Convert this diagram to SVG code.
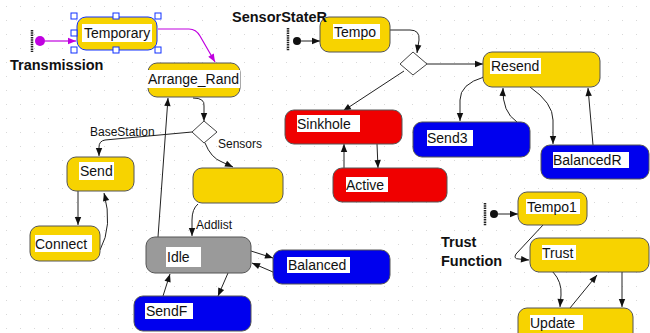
<svg xmlns="http://www.w3.org/2000/svg" width="650" height="333" viewBox="0 0 650 333">
  <defs>
    <pattern id="grid" width="14" height="14" patternUnits="userSpaceOnUse">
      <rect x="6" y="6" width="1" height="1" fill="#d8d8d8"/>
    </pattern>
    <marker id="arr" viewBox="0 0 10 10" refX="10" refY="5" markerWidth="10" markerHeight="8" orient="auto" markerUnits="userSpaceOnUse">
      <path d="M0,1 L10,5 L0,9 Z" fill="#111"/>
    </marker>
    <marker id="arrM" viewBox="0 0 10 10" refX="10" refY="5" markerWidth="10" markerHeight="8" orient="auto" markerUnits="userSpaceOnUse">
      <path d="M0,1 L10,5 L0,9 Z" fill="#c000e0"/>
    </marker>
    <style>
      .node { stroke: #555; stroke-width: 1; }
      .yel { fill: #f7d300; }
      .red { fill: #f00000; }
      .blu { fill: #0000ee; }
      .gry { fill: #9a9a9a; }
      .lblbg { fill: #fff; }
      .lbl { font-family: "Liberation Sans", Arial, sans-serif; font-size: 14px; fill: #111; }
      .elbl { font-family: "Liberation Sans", Arial, sans-serif; font-size: 12px; fill: #111; }
      .title { font-family: "Liberation Sans", Arial, sans-serif; font-size: 14.5px; font-weight: bold; fill: #111; }
      .edge { fill: none; stroke: #222; stroke-width: 1; marker-end: url(#arr); }
      .edgeM { fill: none; stroke: #c000e0; stroke-width: 1.2; marker-end: url(#arrM); }
      .bar { stroke: #222; stroke-width: 2.5; stroke-dasharray: 1.5 0.8; }
      .dia { fill: #fff; stroke: #444; stroke-width: 1; }
      .handle { fill: #fff; stroke: #1030ff; stroke-width: 1; }
    </style>
  </defs>

  <rect width="650" height="333" fill="#fff"/>
  <rect width="650" height="333" fill="url(#grid)"/>

  <!-- connectors -->
  <g id="connectors">
    <line class="bar" x1="32" y1="30" x2="32" y2="52"/>
    <circle cx="40" cy="41" r="5" fill="#c000e0"/>
    <line class="edgeM" x1="45" y1="41" x2="76" y2="41"/>
    <path class="edgeM" d="M158,29 L189,29 Q196,29 200,36 L215,62"/>

    <line class="bar" x1="288" y1="28" x2="288" y2="51"/>
    <circle cx="297" cy="41" r="4" fill="#111"/>
    <line class="edge" x1="301" y1="41" x2="320" y2="41"/>
    <path class="edge" d="M390,30 L410,30 Q420,30 419,40 L417,53"/>
    <line class="edge" x1="404" y1="71" x2="343" y2="111"/>
    <line class="edge" x1="427" y1="64" x2="483" y2="64"/>
    <path class="edge" d="M484,77 Q460,84 460,100 L460,121"/>
    <path class="edge" d="M517,122 Q502,112 503,88"/>
    <path class="edge" d="M530,87 Q553,103 553,120 L553,144"/>
    <line class="edge" x1="593" y1="145" x2="588" y2="88"/>
    <line class="edge" x1="344" y1="168" x2="344" y2="144"/>
    <line class="edge" x1="377" y1="144" x2="378" y2="168"/>

    <path class="edge" d="M193,98 Q205,98 204,106 L204,121"/>
    <path class="edge" d="M192,132 L105,140 Q99,141 99,147 L99,156"/>
    <path class="edge" d="M205,143 Q211,158 222,162 L233,167"/>
    <line class="edge" x1="78" y1="191" x2="78" y2="225"/>
    <path class="edge" d="M100,250 Q113,226 104,193"/>
    <path class="edge" d="M198,204 Q192,209 192,220 L192,236"/>
    <line class="edge" x1="158" y1="237" x2="168" y2="98"/>
    <line class="edge" x1="251" y1="251" x2="273" y2="258"/>
    <line class="edge" x1="273" y1="272" x2="252" y2="263"/>
    <line class="edge" x1="228" y1="273" x2="218" y2="296"/>
    <line class="edge" x1="163" y1="296" x2="170" y2="274"/>

    <line class="bar" x1="485" y1="203" x2="485" y2="226"/>
    <circle cx="494" cy="214" r="4" fill="#111"/>
    <line class="edge" x1="498" y1="214" x2="518" y2="214"/>
    <path class="edge" d="M543,225 L516,254 Q513,259 519,259 L529,260"/>
    <path class="edge" d="M553,272 Q562,282 561,295 L560,307"/>
    <line class="edge" x1="570" y1="308" x2="597" y2="275"/>
    <line class="edge" x1="622" y1="272" x2="622" y2="307"/>
  </g>

  <!-- decision points -->
  <g id="choiceR"><polygon class="dia" points="413,52 427,64 413,75 400,64"/></g>
  <g id="choiceL"><polygon class="dia" points="204,121 217,132 204,143 192,132"/></g>

  <!-- edge labels -->
  <text class="elbl" x="90" y="136">BaseStation</text>
  <text class="elbl" x="218" y="148">Sensors</text>
  <text class="elbl" x="196" y="229">Addlist</text>

  <!-- states -->
  <g id="Temporary">
    <rect class="yel" x="77" y="17" width="80" height="33" rx="9" stroke="#1030ff" stroke-width="1"/>
    <rect class="lblbg" x="82" y="24" width="70" height="18"/>
    <text class="lbl" x="84" y="38">Temporary</text>
    <rect class="handle" x="71" y="13" width="6" height="6"/>
    <rect class="handle" x="113" y="13" width="6" height="6"/>
    <rect class="handle" x="155" y="13" width="6" height="6"/>
    <rect class="handle" x="71" y="30" width="6" height="6"/>
    <rect class="handle" x="71" y="47" width="6" height="6"/>
    <rect class="handle" x="113" y="47" width="6" height="6"/>
    <rect class="handle" x="155" y="47" width="6" height="6"/>
  </g>
  <g id="Arrange_Rand">
    <rect class="node yel" x="148" y="63" width="92" height="34" rx="9"/>
    <rect class="lblbg" x="147" y="70" width="93" height="18"/>
    <text class="lbl" x="148" y="84">Arrange_Rand</text>
  </g>
  <g id="Tempo">
    <rect class="node yel" x="320" y="17" width="70" height="35" rx="9"/>
    <rect class="lblbg" x="333" y="24" width="47" height="15"/>
    <text class="lbl" x="334" y="37">Tempo</text>
  </g>
  <g id="Resend">
    <rect class="node yel" x="483" y="52" width="117" height="35" rx="9"/>
    <rect class="lblbg" x="490" y="58" width="51" height="16"/>
    <text class="lbl" x="491" y="71">Resend</text>
  </g>
  <g id="Send3">
    <rect class="node blu" x="413" y="122" width="117" height="35" rx="9"/>
    <rect class="lblbg" x="427" y="130" width="46" height="16"/>
    <text class="lbl" x="427" y="143">Send3</text>
  </g>
  <g id="BalancedR">
    <rect class="node blu" x="541" y="145" width="108" height="34" rx="9"/>
    <rect class="lblbg" x="553" y="152" width="76" height="16"/>
    <text class="lbl" x="553" y="165">BalancedR</text>
  </g>
  <g id="Sinkhole">
    <rect class="node red" x="285" y="110" width="117" height="34" rx="9"/>
    <rect class="lblbg" x="297" y="115" width="63" height="17"/>
    <text class="lbl" x="297" y="129">Sinkhole</text>
  </g>
  <g id="Active">
    <rect class="node red" x="333" y="168" width="114" height="34" rx="9"/>
    <rect class="lblbg" x="346" y="177" width="42" height="15"/>
    <text class="lbl" x="346" y="190">Active</text>
  </g>
  <g id="Send">
    <rect class="node yel" x="67" y="157" width="67" height="34" rx="9"/>
    <rect class="lblbg" x="79" y="162" width="35" height="18"/>
    <text class="lbl" x="80" y="176">Send</text>
  </g>
  <g id="Connect">
    <rect class="node yel" x="30" y="226" width="70" height="35" rx="9"/>
    <rect class="lblbg" x="35" y="235" width="57" height="17"/>
    <text class="lbl" x="35" y="249">Connect</text>
  </g>
  <g id="Sensors_state">
    <rect class="node yel" x="193" y="168" width="90" height="35" rx="9"/>
  </g>
  <g id="Idle">
    <rect class="node gry" x="146" y="237" width="105" height="36" rx="9"/>
    <rect class="lblbg" x="166" y="247" width="35" height="20"/>
    <text class="lbl" x="167" y="262">Idle</text>
  </g>
  <g id="Balanced">
    <rect class="node blu" x="273" y="250" width="117" height="34" rx="9"/>
    <rect class="lblbg" x="287" y="257" width="63" height="16"/>
    <text class="lbl" x="288" y="270">Balanced</text>
  </g>
  <g id="SendF">
    <rect class="node blu" x="134" y="296" width="117" height="35" rx="9"/>
    <rect class="lblbg" x="145" y="303" width="48" height="16"/>
    <text class="lbl" x="146" y="316">SendF</text>
  </g>
  <g id="Tempo1">
    <rect class="node yel" x="518" y="192" width="69" height="33" rx="9"/>
    <rect class="lblbg" x="526" y="199" width="54" height="15"/>
    <text class="lbl" x="527" y="212">Tempo1</text>
  </g>
  <g id="Trust">
    <rect class="node yel" x="530" y="238" width="119" height="34" rx="9"/>
    <rect class="lblbg" x="542" y="245" width="34" height="15"/>
    <text class="lbl" x="542" y="258">Trust</text>
  </g>
  <g id="Update">
    <rect class="node yel" x="518" y="308" width="115" height="34" rx="9"/>
    <rect class="lblbg" x="530" y="315" width="53" height="15"/>
    <text class="lbl" x="530" y="328">Update</text>
  </g>

  <!-- machine titles, drawn above the states -->
  <text class="title" x="10" y="70">Transmission</text>
  <text class="title" x="232" y="22">SensorStateR</text>
  <text class="title" x="441" y="247">Trust</text>
  <text class="title" x="441" y="266">Function</text>
</svg>
